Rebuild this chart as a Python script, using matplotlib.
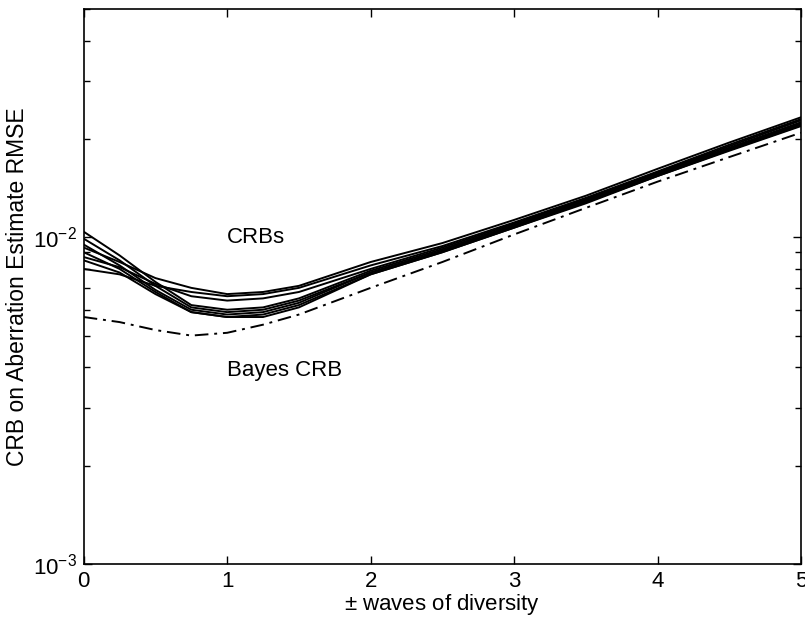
import matplotlib
matplotlib.use('Agg')
import matplotlib.pyplot as plt
import numpy as np

plt.rcParams['font.family'] = ['Liberation Sans', 'DejaVu Sans']
plt.rcParams['mathtext.fontset'] = 'custom'
plt.rcParams['mathtext.rm'] = 'Liberation Sans'
plt.rcParams['mathtext.it'] = 'Liberation Sans:italic'

# waves of diversity
x = [0, 0.25, 0.5, 0.75, 1.0, 1.25, 1.5, 2.0, 2.5, 3.0, 3.5, 4.0, 4.5, 5.0]

# CRB curves
crb1 = [0.0093, 0.0084, 0.0075, 0.0070, 0.0067, 0.0068, 0.0071, 0.0084, 0.0096, 0.0113, 0.0134, 0.0162, 0.0195, 0.0233]
crb2 = [0.0080, 0.0077, 0.0071, 0.0068, 0.0066, 0.0067, 0.0070, 0.0082, 0.0094, 0.0111, 0.0132, 0.0159, 0.0192, 0.0230]
crb3 = [0.0087, 0.0081, 0.0072, 0.0066, 0.0064, 0.0065, 0.0068, 0.0080, 0.0093, 0.0110, 0.0131, 0.0158, 0.0190, 0.0228]
crb4 = [0.0104, 0.0088, 0.0073, 0.0062, 0.0060, 0.0061, 0.0065, 0.0079, 0.0092, 0.0109, 0.0130, 0.0157, 0.0188, 0.0225]
crb5 = [0.0099, 0.0085, 0.0071, 0.0061, 0.0059, 0.0060, 0.0064, 0.0078, 0.0091, 0.0108, 0.0129, 0.0156, 0.0187, 0.0223]
crb6 = [0.0095, 0.0082, 0.0069, 0.0060, 0.0058, 0.0059, 0.0063, 0.0078, 0.0091, 0.0108, 0.0128, 0.0155, 0.0186, 0.0222]
crb7 = [0.0090, 0.0080, 0.0068, 0.0059, 0.0057, 0.0058, 0.0062, 0.0077, 0.0090, 0.0107, 0.0128, 0.0154, 0.0185, 0.0220]
crb8 = [0.0085, 0.0078, 0.0067, 0.0059, 0.0057, 0.0057, 0.0061, 0.0077, 0.0090, 0.0107, 0.0127, 0.0154, 0.0184, 0.0219]

bayes = [0.0057, 0.0055, 0.0052, 0.0050, 0.0051, 0.0054, 0.0058, 0.0070, 0.0084, 0.0102, 0.0123, 0.0148, 0.0176, 0.0209]

fig = plt.figure(figsize=(8.05, 6.19), dpi=100)
ax = fig.add_axes([0.104, 0.089, 0.891, 0.8965])

for c in [crb1, crb2, crb3, crb4, crb5, crb6, crb7, crb8]:
    ax.plot(x, c, color='black', lw=1.4)
ax.plot(x, bayes, color='black', lw=1.4, linestyle=(0, (7, 3, 1.5, 3)))

ax.set_yscale('log')
ax.set_xlim(0, 5)
ax.set_ylim(1e-3, 0.05)
ax.set_xticks([0, 1, 2, 3, 4, 5])
ax.set_yticks([1e-3, 1e-2])
ax.set_yticklabels([r'$10^{-3}$', r'$10^{-2}$'])
ax.tick_params(which='both', direction='in', top=True, right=True, labelsize=16)
ax.tick_params(which='major', length=6, width=1, pad=5)
ax.tick_params(which='minor', length=4, width=1)
ax.minorticks_on()
ax.xaxis.set_minor_locator(matplotlib.ticker.NullLocator())
for s in ax.spines.values():
    s.set_linewidth(1.2)

ax.text(1.0, 1.0e-2, 'CRBs', fontsize=16, va='center', ha='left')
ax.text(1.0, 3.9e-3, 'Bayes CRB', fontsize=16, va='center', ha='left')

ax.set_xlabel(r'$\pm$ waves of diversity', fontsize=16, labelpad=0)
ax.set_ylabel('CRB on Aberration Estimate RMSE', fontsize=16.5)
ax.yaxis.set_label_coords(-0.076, 0.5)

fig.savefig('out.png', dpi=100)
